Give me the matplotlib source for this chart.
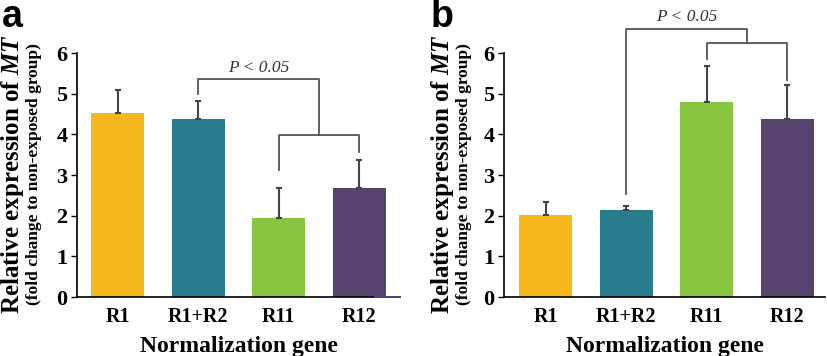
import matplotlib
matplotlib.use("Agg")
import matplotlib.pyplot as plt

matplotlib.rcParams["mathtext.fontset"] = "custom"
matplotlib.rcParams["mathtext.rm"] = "Liberation Serif"
matplotlib.rcParams["mathtext.it"] = "Liberation Serif:italic"
matplotlib.rcParams["mathtext.bf"] = "Liberation Serif:bold"
matplotlib.rcParams["mathtext.bfit"] = "Liberation Serif:bold:italic"

categories = ["R1", "R1+R2", "R11", "R12"]
values_a = [4.52, 4.38, 1.94, 2.68]
errors_a = [0.56, 0.45, 0.74, 0.70]
values_b = [2.02, 2.13, 4.80, 4.38]
errors_b = [0.31, 0.12, 0.87, 0.84]
colors = ["#F4B81C", "#2B7B8E", "#88C540", "#57436F"]
yticks = [0, 1, 2, 3, 4, 5, 6]

serif = ["Liberation Serif", "DejaVu Serif"]
sans = ["Liberation Sans", "DejaVu Sans"]

fig = plt.figure(figsize=(8.27, 3.56), dpi=100)
ax_a = fig.add_axes([0.0931, 0.1657, 0.3906, 0.6854])
ax_b = fig.add_axes([0.6094, 0.1657, 0.3882, 0.6854])

def style(ax, xlim):
    ax.set_xlim(*xlim)
    ax.set_ylim(0, 6)
    for s in ["top", "right"]:
        ax.spines[s].set_visible(False)
    ax.spines["left"].set_linewidth(1.2)
    ax.spines["bottom"].set_linewidth(1.2)
    ax.set_yticks(yticks)
    ax.set_yticklabels([str(t) for t in yticks], fontsize=16, fontweight="bold", family=serif)
    ax.tick_params(axis="y", length=4, width=1.0, pad=3)
    ax.set_xticks(range(len(categories)))
    ax.set_xticklabels(categories, fontsize=14.5, fontweight="bold", family=serif)
    ax.tick_params(axis="x", length=0, pad=7)
    ax.set_xlabel("Normalization gene", fontsize=17, fontweight="bold", family=serif, labelpad=7)

def bars(ax, vals, errs):
    x = range(len(categories))
    ax.bar(x, vals, width=0.66, color=colors, zorder=2)
    ax.errorbar(x, vals, yerr=[[0]*len(errs), errs], fmt="none", ecolor="#444444",
                elinewidth=1.5, capsize=2.5, capthick=1.5, zorder=3)

def bracket(ax, pts):
    ax.plot([p[0] for p in pts], [p[1] for p in pts], color="#555555", lw=1.3,
            clip_on=False, zorder=4)

# Panel a
bars(ax_a, values_a, errors_a)
style(ax_a, (-0.51, 3.51))
ax_a.plot([3.2, 3.51], [0, 0], color="#57436F", lw=1.4, clip_on=False, zorder=5)
bracket(ax_a, [(1, 5.0), (1, 5.37), (2.5, 5.37), (2.5, 3.99)])
bracket(ax_a, [(2, 3.13), (2, 3.99), (3, 3.99), (3, 3.57)])
ax_a.text(1.75, 5.43, "P < 0.05", fontsize=12.5, style="italic", family=serif,
          ha="center", va="bottom", color="#333333")

# Panel b
bars(ax_b, values_b, errors_b)
style(ax_b, (-0.52, 3.47))
bracket(ax_b, [(1, 2.54), (1, 6.6), (2.5, 6.6), (2.5, 6.25)])
bracket(ax_b, [(2, 5.85), (2, 6.25), (3, 6.25), (3, 5.34)])
ax_b.text(1.75, 6.68, "P < 0.05", fontsize=12.5, style="italic", family=serif,
          ha="center", va="bottom", color="#333333")

# y labels
for xl, xs in [(12.5 / 827, 34 / 827), (442 / 827, 464 / 827)]:
    fig.text(xl, 0.512, "Relative expression of $\\mathbfit{MT}$", rotation=90,
             fontsize=18, fontweight="bold", family=serif, ha="center", va="center")
    fig.text(xs, 0.511, "(fold change to non-exposed group)", rotation=90,
             fontsize=12.5, fontweight="bold", family=serif, ha="center", va="center")

fig.text(0.002, 1 - 27 / 356, "a", fontsize=27, fontweight="bold", family=sans,
         ha="left", va="baseline")
fig.text(0.521, 1 - 27 / 356, "b", fontsize=27, fontweight="bold", family=sans,
         ha="left", va="baseline")

fig.savefig("out.png", dpi=100)
